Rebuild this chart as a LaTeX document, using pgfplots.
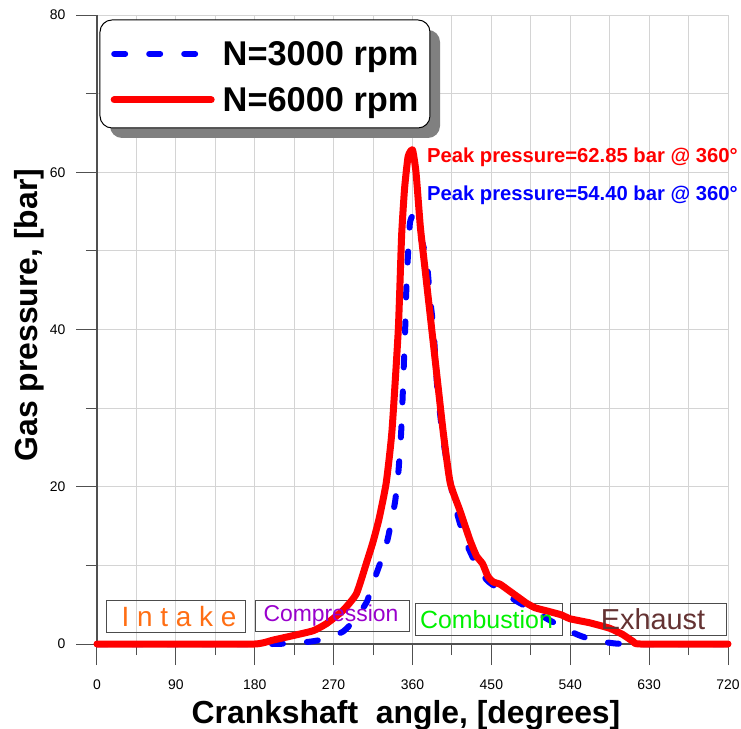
\documentclass[border=0pt]{standalone}
\usepackage{pgfplots}
\pgfplotsset{compat=1.18}
\usepackage{fontspec}
\setmainfont{Liberation Sans}
\definecolor{intakec}{RGB}{255,110,20}
\definecolor{compc}{RGB}{153,0,204}
\definecolor{combc}{RGB}{0,240,0}
\definecolor{exhc}{RGB}{100,50,50}
\definecolor{gridc}{RGB}{212,212,212}
\definecolor{axc}{RGB}{80,80,80}
\begin{document}
\begin{tikzpicture}
\begin{axis}[
  scale only axis, width=631bp, height=629bp,
  xmin=0, xmax=720, ymin=0, ymax=80,
  clip=false,
  axis x line*=bottom, axis y line*=left,
  axis line style={axc, line width=1.2bp},
  xtick={0,90,...,720}, minor xtick={45,135,...,675},
  ytick={0,20,...,80}, minor ytick={10,30,50,70},
  tick align=outside,
  major tick length=21bp, minor tick length=11bp,
  every tick/.style={axc, line width=1bp},
  grid=both,
  major grid style={gridc, line width=1bp},
  minor grid style={gridc, line width=1bp},
  /pgf/number format/assume math mode=true,
  ticklabel style={font=\fontsize{14}{14}\selectfont},
  xticklabel style={yshift=-11bp},
  yticklabel style={xshift=-7bp},
  xlabel={Crankshaft\ \ angle, [degrees]},
  ylabel={Gas pressure, [bar]},
  label style={font=\fontsize{32}{32}\selectfont\bfseries},
  xlabel style={at={(axis description cs:0.4897,-0.1256)}, anchor=base},
  ylabel style={at={(axis description cs:-0.0935,0.523)}, anchor=base, rotate=0},
  legend cell align=left,
  legend style={at={(axis description cs:0.0214,0.9587)}, anchor=north west,
    font=\fontsize{34.5}{40}\selectfont\bfseries,
    draw=none, fill=none, inner sep=0pt,
    row sep=20.5bp, column sep=8bp,
    nodes={inner sep=0pt}},
  legend image code/.code={\draw[#1] (0bp,0bp) -- (97bp,0bp);},
]
% legend frame with shadow
\fill[gray, rounded corners=12bp] (axis description cs:0.0206,0.8045) rectangle (axis description cs:0.5436,0.9762);
\draw[black, line width=1bp, fill=white, rounded corners=12bp] (axis description cs:0.00475,0.8204) rectangle (axis description cs:0.5277,0.9921);

% phase boxes
\draw[black!70, line width=1bp] (axis cs:11.4,1.40) rectangle (axis cs:168.9,5.47);
\draw[black!70, line width=1bp] (axis cs:180.3,1.53) rectangle (axis cs:357.1,5.47);
\draw[black!70, line width=1bp] (axis cs:362.9,1.14) rectangle (axis cs:531.7,5.09);
\draw[black!70, line width=1bp] (axis cs:540.8,1.14) rectangle (axis cs:718.8,5.09);

\addplot[blue, line width=6bp, line cap=round, dash pattern=on 11bp off 24bp, smooth, tension=0.3] coordinates {
(0,0) (200,0) (243,0.3) (262,0.7) (281,1.6) (295,3.2) (308,5.4) (319,9) (327,11.5)
(332,13.5) (340,18) (344,22) (347,26.8) (348.6,31) (350,35.2) (351.6,39.9) (352.8,44.6)
(354.5,48.8) (357,53.5) (360,54.4) (365,53.5) (370,51.5) (376,49) (380,44) (384,40)
(388,33) (395,26) (407,18.3) (420,13.2) (435,9.6) (446,8) (462,6.7) (478,5.5) (494,4.5)
(512,3.3) (530,2.2) (548,1.2) (566,0.5) (585,0.15) (604,0) (720,0)};
\addlegendentry{N=3000 rpm}

\addplot[red, line width=7bp, line cap=round, line join=round, smooth, tension=0.3] coordinates {
(0,0) (90,0) (180,0) (201,0.5) (225,1.1) (247,1.7) (262,2.6) (281,4.3) (296,6.4) (308,10.5)
(315,13) (322,16) (330,20.5) (336.5,27) (343.8,40) (347.6,52) (351,58) (355,62)
(360,62.85) (364,60) (369,53) (374,48) (384,38) (395,27) (403,20.5) (414,17)
(425.6,13.2) (433,11.2) (440,10.2) (446,8.6) (452,7.9) (460,7.6) (470,6.8) (480,6.0)
(490,5.2) (500,4.6) (517,4.1) (530,3.7) (540,3.2) (562,2.7) (585,2.0) (600,1.2)
(612,0.3) (620,0) (720,0)};
\addlegendentry{N=6000 rpm}

% phase labels
\node[text=intakec, font=\fontsize{28}{28}\selectfont] at (axis cs:93.6,3.5) {I n t a k e};
\node[text=compc, font=\fontsize{23}{23}\selectfont] at (axis cs:267,3.56) {Compression};
\node[text=combc, font=\fontsize{25}{25}\selectfont] at (axis cs:444.4,3.05) {Combustion};
\node[text=exhc, font=\fontsize{29}{29}\selectfont] at (axis cs:634.4,3.2) {Exhaust};

% peak annotations
\node[anchor=west, text=red, font=\fontsize{20.3}{20.3}\selectfont\bfseries, inner sep=0pt] at (axis cs:376.5,61.9) {Peak pressure=62.85 bar @ 360°};
\node[anchor=west, text=blue, font=\fontsize{20.3}{20.3}\selectfont\bfseries, inner sep=0pt] at (axis cs:376.5,57.1) {Peak pressure=54.40 bar @ 360°};

\coordinate (O) at (rel axis cs:0,0);
\end{axis}
\pgfresetboundingbox
\path ([shift={(-97bp,-85bp)}]O) rectangle ([shift={(644bp,644bp)}]O);
\end{tikzpicture}
\end{document}
